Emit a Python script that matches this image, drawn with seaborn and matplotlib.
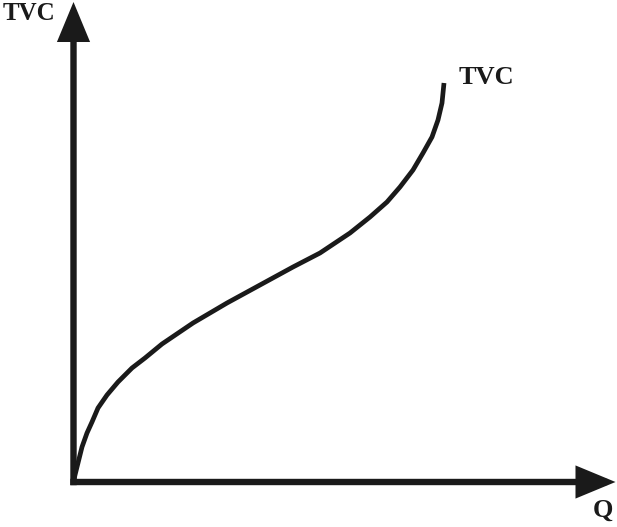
import matplotlib
matplotlib.use('Agg')
from matplotlib import pyplot as plt
import seaborn as sns
import pandas as pd

# TVC curve (Q and TVC in pixel-like units, origin at the axes corner)
q_vals = [0, 1.5, 4.5, 8.5, 13.5, 18.5, 24.5, 33.5, 44.5, 58.5, 71.5, 88.5, 119.5, 153.5,
          186.5, 219.5, 246.5, 276.5, 296.5, 313.5, 326.5, 339.5, 349.5, 358.5, 364.5, 368.5, 370.5]
tvc_vals = [0, 7, 19, 35, 49, 60, 74, 87, 100, 114, 124, 138, 159, 179,
            197, 215, 229, 249, 265, 280, 295, 312, 329, 345, 362, 379, 399]

curve_label = 'TVC'
x_label = 'Q'
y_label = 'TVC'

df = pd.DataFrame({'Q': q_vals, 'TVC': tvc_vals})

sns.set_style('white')
plt.rcParams['font.family'] = ['Liberation Serif', 'DejaVu Serif']

fig = plt.figure(figsize=(6.17, 5.27), dpi=100)
ax = fig.add_axes([0, 0, 1, 1])
ax.set_xlim(-73.5, 543.5)
ax.set_ylim(-45, 482)
ax.axis('off')

ink = '#1a1a1a'

sns.lineplot(data=df, x='Q', y='TVC', sort=False, color=ink, linewidth=3.4,
             solid_capstyle='butt', solid_joinstyle='round', ax=ax, legend=False)

# axes with arrow heads
arrow = dict(arrowstyle='-|>,head_length=2.05,head_width=0.85', mutation_scale=10,
             color=ink, linewidth=4.6, shrinkA=0, shrinkB=0, joinstyle='miter',
             capstyle='butt')
ax.annotate('', xy=(0, 480), xytext=(0, -3.2), arrowprops=arrow)
ax.annotate('', xy=(542, 0), xytext=(-3.2, 0), arrowprops=arrow)

ax.text(-70.5, 468, y_label, fontsize=18, fontweight='bold', color=ink, ha='left', va='center')
ax.text(385.5, 404, curve_label, fontsize=19, fontweight='bold', color=ink, ha='left', va='center')
ax.text(519.5, -28, x_label, fontsize=19, fontweight='bold', color=ink, ha='left', va='center')

fig.savefig('out.png', dpi=100)
